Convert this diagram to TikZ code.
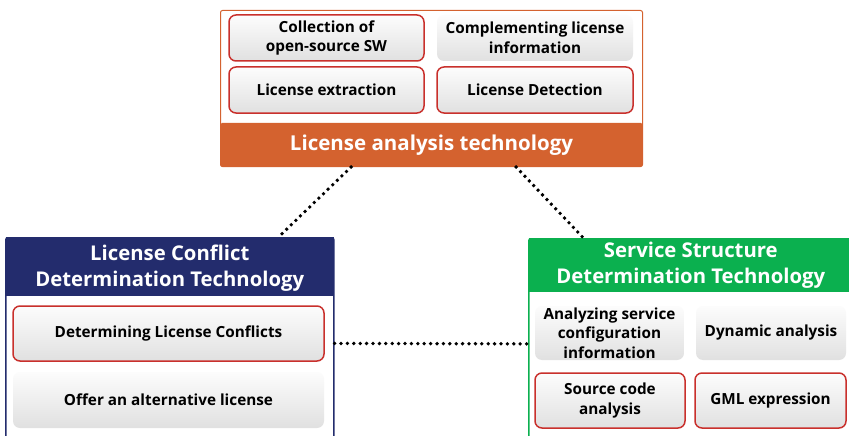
\documentclass[tikz,border=0pt]{standalone}
\usepackage{fontspec}
\setmainfont{Open Sans}
\usetikzlibrary{calc}

\definecolor{lorange}{HTML}{D4622F}
\definecolor{lblue}{HTML}{232C6D}
\definecolor{lgreen}{HTML}{0BB04F}
\definecolor{lred}{HTML}{C9302C}

\begin{document}
\begin{tikzpicture}[
            x=1pt, y=-1pt,
            panel/.style={
                rectangle,
                rounded corners=2pt,
                fill=white,
                line width=1.6pt,
                anchor=north west,
                inner sep=0pt
            },
            header/.style={
                rectangle,
                anchor=north,
                inner sep=0pt,
                align=center,
                text=white,
                font=\bfseries\fontsize{20.3}{26}\selectfont
            },
            item/.style={
                rectangle,
                rounded corners=7pt,
                top color=gray!2,
                bottom color=gray!24,
                align=center,
                inner sep=0pt,
                font=\bfseries\fontsize{15.3}{19.5}\selectfont
            },
            redbox/.style={
                item,
                draw=lred,
                line width=1.5pt
            },
            dots/.style={
                line width=3.8pt,
                line cap=round,
                dash pattern=on 0pt off 6.4pt
            }
        ]
            \useasboundingbox (0,0) rectangle (849,436);
            \clip (0,0) rectangle (849,436);

            % Analise de licencas (painel superior)
            \node [panel, draw=lorange, line width=1pt, minimum width=422pt, minimum height=156pt]
                (lat) at (220,10) {};
            \node [header, anchor=south, fill=lorange, minimum width=422pt, minimum height=44pt,
                rounded corners=1.5pt, font=\bfseries\fontsize{20.5}{25}\selectfont]
                (latbar) at (lat.south) {License analysis technology};
            \node [redbox, minimum width=195pt, minimum height=46pt] (col) at (326.5,38)
                {Collection of\\open-source SW};
            \node [item, minimum width=196pt, minimum height=46pt] (cli) at (535,38)
                {Complementing license\\information};
            \node [redbox, minimum width=195pt, minimum height=46pt] (lex) at (326.5,90)
                {License extraction};
            \node [redbox, minimum width=196pt, minimum height=46pt] (ldt) at (535,90)
                {License Detection};

            % Conflitos de licenca (painel esquerdo)
            \node [panel, draw=lblue, minimum width=328pt, minimum height=203pt]
                (lcd) at (5,237) {};
            \node [header, fill=lblue, minimum width=328pt, minimum height=59pt, text depth=2pt]
                (lcdbar) at (lcd.north) {License Conflict\\Determination Technology};
            \node [redbox, minimum width=311pt, minimum height=55pt] (dlc) at (168.5,333.5)
                {Determining License Conflicts};
            \node [item, minimum width=311pt, minimum height=56pt] (oal) at (168.5,400)
                {Offer an alternative license};

            % Estrutura de servico (painel direito)
            \node [panel, draw=lgreen, minimum width=324pt, minimum height=202pt]
                (ssd) at (528,238) {};
            \node [header, fill=lgreen, minimum width=324pt, minimum height=54pt]
                (ssdbar) at (ssd.north) {Service Structure\\Determination Technology};
            \node [item, minimum width=149pt, minimum height=54pt] (asc) at (609.5,333)
                {Analyzing service\\configuration\\information};
            \node [item, minimum width=150pt, minimum height=54pt] (dya) at (771,333)
                {Dynamic analysis};
            \node [redbox, minimum width=150pt, minimum height=55pt] (sca) at (610,400.5)
                {Source code\\analysis};
            \node [redbox, minimum width=151pt, minimum height=55pt] (gml) at (770.5,400.5)
                {GML expression};

            % Ligacoes pontilhadas
            \draw [dots] ($(lat.south west)!0.31!(lat.south east)$)
                -- ($(lcd.north west)!0.83!(lcd.north east)$);
            \draw [dots] ($(lat.south west)!0.70!(lat.south east)$)
                -- ($(ssd.north west)!0.17!(ssd.north east)$);
            \draw [dots] ($(lcd.north east)!0.52!(lcd.south east)$)
                -- ($(ssd.north west)!0.52!(ssd.south west)$);
        \end{tikzpicture}
\end{document}
